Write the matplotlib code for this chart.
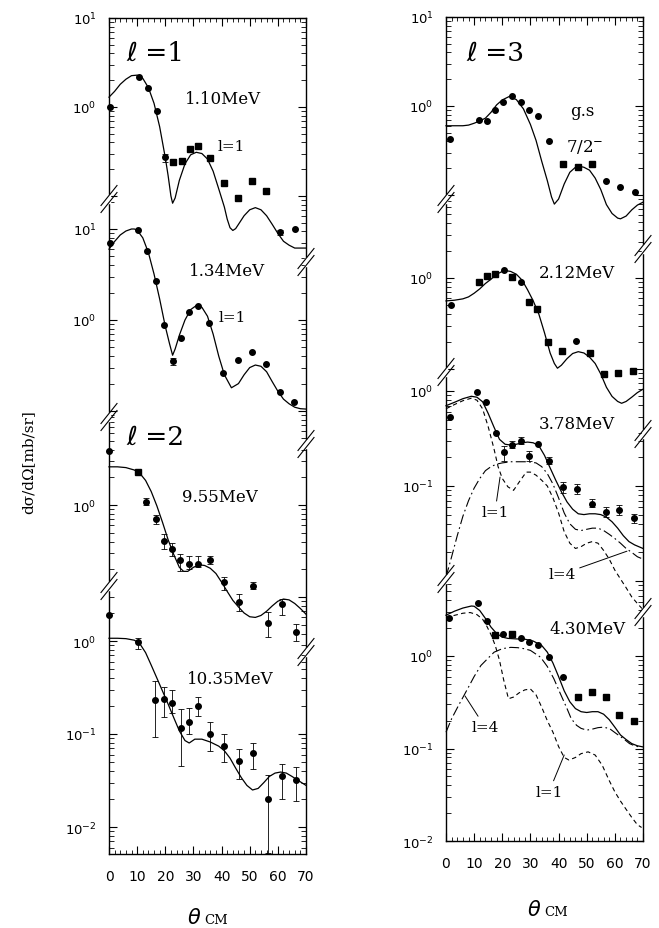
import numpy as np
import matplotlib.pyplot as plt
from matplotlib.lines import Line2D
from matplotlib.ticker import LogLocator, NullFormatter, MultipleLocator, FuncFormatter

W, H = 659, 929
nan = np.nan

# ---------------- data ----------------
# left column, l=1 : 1.10 MeV
a_th = [0.4, 10.7, 14.0, 16.9, 19.9, 22.9, 25.8, 28.8, 31.7, 35.9, 40.9, 45.7, 50.7, 55.8, 60.8, 66.1]
a_v = [1.0, 2.19, 1.62, 0.91, 0.272, 0.24, 0.25, 0.34, 0.36, 0.265, 0.139, 0.095, 0.149, 0.113, 0.039, 0.043]
a_lo = [nan, nan, nan, nan, 0.24, nan, nan, nan, nan, nan, nan, nan, nan, nan, 0.036, nan]
a_hi = [nan, nan, nan, nan, 0.30, nan, nan, nan, nan, nan, nan, nan, nan, nan, 0.042, nan]
a_sq = [5, 6, 7, 8, 9, 10, 11, 12, 13]
a_cth = [0, 2, 4, 6, 8, 10, 12, 14, 16, 18, 20, 21, 22, 22.6, 23.5, 25, 27, 29, 31, 33, 35, 37, 39,
         41, 42, 43, 44, 45, 46, 48, 50, 52, 54, 56, 58, 60, 62, 64, 66, 68, 70]
a_cv = [1.29, 1.5, 1.8, 2.05, 2.25, 2.28, 2.1, 1.65, 1.1, 0.6, 0.27, 0.17, 0.1, 0.083, 0.095, 0.15, 0.23,
        0.29, 0.31, 0.3, 0.26, 0.19, 0.12, 0.075, 0.055, 0.044, 0.041, 0.043, 0.048, 0.06, 0.07, 0.074,
        0.07, 0.06, 0.048, 0.038, 0.031, 0.028, 0.026, 0.026, 0.026]

# 1.34 MeV
b_th = [0.4, 10.4, 13.6, 16.6, 19.5, 22.6, 25.5, 28.5, 31.5, 35.5, 40.6, 45.7, 50.7, 55.8, 60.8, 65.8]
b_v = [6.96, 9.8, 5.8, 2.7, 0.89, 0.35, 0.63, 1.21, 1.41, 0.92, 0.26, 0.36, 0.45, 0.33, 0.16, 0.125]
b_lo = [nan] * 5 + [0.32] + [nan] * 10
b_hi = [nan] * 5 + [0.38] + [nan] * 10
b_sq = []
b_cth = [0, 2, 4, 6, 8, 9, 10, 12, 14, 16, 18, 20, 21.5, 22.6, 23.5, 25, 27, 29, 31, 33, 35, 37, 39, 41,
         43.5, 46, 48, 50, 52, 54, 56, 58, 60, 62, 64, 66, 68, 70]
b_cv = [6.0, 7.3, 8.6, 9.5, 10.0, 10.0, 9.7, 8.0, 5.5, 3.2, 1.7, 0.85, 0.55, 0.41, 0.48, 0.68, 1.0, 1.3,
        1.44, 1.38, 1.1, 0.7, 0.4, 0.25, 0.18, 0.2, 0.25, 0.3, 0.32, 0.31, 0.27, 0.21, 0.165, 0.135, 0.12,
        0.11, 0.106, 0.105]

# l=2 : 9.55 MeV
c_th = [0.0, 10.4, 13.3, 16.6, 19.5, 22.5, 25.4, 28.4, 31.6, 35.8, 40.9, 46.2, 51.2, 56.6, 61.4, 66.5]
c_v = [3.9, 2.3, 1.09, 0.70, 0.41, 0.33, 0.25, 0.23, 0.23, 0.25, 0.145, 0.089, 0.133, 0.052, 0.084, 0.042]
c_lo = [nan, nan, 1.0, 0.62, 0.33, 0.28, 0.19, 0.20, 0.21, 0.23, 0.12, 0.071, 0.122, 0.037, 0.063, 0.033]
c_hi = [nan, nan, 1.18, 0.78, 0.48, 0.39, 0.29, 0.28, 0.276, 0.28, 0.164, 0.108, 0.145, 0.068, 0.095, 0.051]
c_sq = [1]
c_cth = [0, 3, 6, 9, 11, 13, 15, 17, 19, 21, 23, 25, 26.5, 28, 30, 32, 34, 36, 38, 40, 42, 44, 46, 48,
         50, 52, 54, 56, 58, 60, 62, 64, 66, 68, 70]
c_cv = [2.6, 2.6, 2.55, 2.4, 2.2, 1.85, 1.4, 0.98, 0.65, 0.42, 0.29, 0.21, 0.19, 0.19, 0.21, 0.224, 0.22,
        0.205, 0.18, 0.145, 0.115, 0.092, 0.078, 0.067, 0.061, 0.06, 0.063, 0.07, 0.08, 0.09, 0.095,
        0.093, 0.085, 0.075, 0.065]

# 10.35 MeV
d_th = [0.0, 10.4, 16.3, 19.4, 22.4, 25.5, 28.4, 31.5, 36.0, 40.8, 46.1, 51.2, 56.6, 61.6, 66.5]
d_v = [1.9, 0.97, 0.234, 0.24, 0.215, 0.116, 0.136, 0.20, 0.10, 0.075, 0.051, 0.062, 0.020, 0.035, 0.032]
d_lo = [nan, 0.82, 0.092, 0.151, 0.17, 0.0455, 0.10, 0.157, 0.066, 0.05, 0.033, 0.042, 0.0052, 0.020, 0.019]
d_hi = [nan, 1.09, 0.375, 0.318, 0.30, 0.186, 0.189, 0.248, 0.134, 0.10, 0.069, 0.081, 0.036, 0.048, 0.044]
d_sq = []
d_cth = [0, 3, 6, 9, 11, 13, 15, 17, 19, 21, 23, 25, 27, 28.5, 30.5, 33, 36, 39, 41, 43, 45, 47, 49, 51,
         53, 55, 57, 59, 61, 63, 65, 67, 70]
d_cv = [1.07, 1.07, 1.06, 1.02, 0.93, 0.75, 0.55, 0.4, 0.29, 0.21, 0.15, 0.108, 0.085, 0.08, 0.088, 0.088,
        0.082, 0.074, 0.066, 0.055, 0.043, 0.034, 0.028, 0.025, 0.026, 0.03, 0.035, 0.038, 0.039, 0.038,
        0.035, 0.032, 0.028]

# right column, l=3 : g.s. 7/2-
e_th = [1.4, 11.7, 14.5, 17.4, 20.4, 23.6, 26.5, 29.6, 32.6, 36.7, 41.7, 46.8, 51.8, 56.9, 61.8, 67.2]
e_v = [0.43, 0.70, 0.68, 0.91, 1.1, 1.31, 1.12, 0.91, 0.78, 0.40, 0.225, 0.205, 0.223, 0.144, 0.124, 0.109]
e_lo = [nan] * 16
e_hi = [nan] * 16
e_sq = [10, 11, 12]
e_cth = [0, 3, 6, 8, 10, 12, 14, 16, 18, 20, 22.5, 25, 27.5, 30, 32, 34, 36, 37.5, 38.5, 40, 42, 44, 46,
         47.5, 49, 51, 53, 55, 57, 59, 61, 62, 64, 66, 68, 70]
e_cv = [0.6, 0.6, 0.6, 0.61, 0.64, 0.68, 0.73, 0.85, 1.03, 1.17, 1.28, 1.18, 0.93, 0.62, 0.41, 0.24, 0.145,
        0.095, 0.079, 0.09, 0.133, 0.18, 0.205, 0.21, 0.205, 0.19, 0.155, 0.115, 0.078, 0.062, 0.055,
        0.054, 0.058, 0.068, 0.077, 0.083]

# 2.12 MeV
f_th = [1.7, 11.7, 14.6, 17.5, 20.6, 23.5, 26.5, 29.4, 32.3, 36.1, 41.1, 46.3, 51.1, 56.1, 61.1, 66.4]
f_v = [0.50, 0.90, 1.06, 1.10, 1.22, 1.03, 0.91, 0.54, 0.46, 0.20, 0.159, 0.205, 0.15, 0.088, 0.091, 0.094]
f_lo = [nan] * 16
f_hi = [nan] * 16
f_sq = [1, 2, 3, 5, 7, 8, 9, 10, 12, 13, 14, 15]
f_cth = [0, 3, 6, 8, 10, 12, 14, 16, 18, 20, 21.6, 23, 25, 27, 29, 31, 33, 35, 37, 38.5, 39.6, 41, 43, 45,
         47, 49, 51, 53, 55, 57, 59, 61, 62.4, 64, 66, 68, 70]
f_cv = [0.56, 0.57, 0.59, 0.62, 0.68, 0.76, 0.87, 0.97, 1.1, 1.18, 1.2, 1.18, 1.1, 0.95, 0.74, 0.56, 0.4,
        0.25, 0.15, 0.115, 0.102, 0.11, 0.13, 0.148, 0.155, 0.15, 0.135, 0.115, 0.088, 0.063, 0.05, 0.044,
        0.042, 0.044, 0.049, 0.055, 0.06]

# 3.78 MeV (sum, l=1, l=4)
g_th = [1.4, 11.1, 14.2, 17.6, 20.6, 23.6, 26.5, 29.6, 32.6, 36.6, 41.5, 46.4, 51.8, 56.9, 61.6, 66.9]
g_v = [0.53, 0.97, 0.76, 0.36, 0.226, 0.27, 0.30, 0.205, 0.28, 0.185, 0.097, 0.093, 0.065, 0.053, 0.056, 0.046]
g_lo = [nan, nan, nan, nan, 0.185, 0.25, 0.277, 0.185, nan, 0.17, 0.085, 0.082, 0.06, 0.047, 0.049, 0.041]
g_hi = [nan, nan, nan, nan, 0.266, 0.30, 0.325, 0.235, nan, 0.20, 0.111, 0.105, 0.073, 0.06, 0.063, 0.051]
g_sq = []
g_cth = [0, 3, 6, 9, 11, 13, 15, 17, 19, 21, 23, 25, 27, 29, 31, 33, 35, 37, 39, 41, 43, 45, 47, 49, 51,
         53, 55, 57, 59, 61, 63, 65, 67, 70]
g_cv = [0.70, 0.76, 0.83, 0.88, 0.86, 0.77, 0.58, 0.42, 0.31, 0.275, 0.27, 0.275, 0.285, 0.29, 0.285,
        0.265, 0.21, 0.155, 0.115, 0.087, 0.068, 0.057, 0.051, 0.05, 0.051, 0.051, 0.05, 0.047, 0.042,
        0.036, 0.03, 0.026, 0.024, 0.022]
g1_th = [0, 3, 6, 9, 11, 13, 15, 17, 18.5, 20, 22, 24, 26, 28.5, 30, 32, 34, 36, 38, 40, 42, 44, 46, 48,
         50, 52, 54, 56, 58, 60, 62, 64, 66, 68, 70]
g1_v = [0.65, 0.72, 0.79, 0.84, 0.8, 0.65, 0.42, 0.25, 0.16, 0.12, 0.098, 0.09, 0.11, 0.14, 0.14, 0.13,
        0.115, 0.1, 0.075, 0.052, 0.033, 0.025, 0.022, 0.023, 0.025, 0.026, 0.025, 0.021, 0.017, 0.013,
        0.0105, 0.0085, 0.0068, 0.0058, 0.005]
g4_th = [0, 2, 4, 6, 8, 10, 12, 14, 16, 18, 20, 23, 26, 29, 32, 34, 36, 38, 40, 42, 44, 46, 48, 50, 52,
         54, 56, 58, 60, 62, 64, 66, 68, 70]
g4_v = [0.011, 0.018, 0.03, 0.048, 0.07, 0.095, 0.12, 0.145, 0.16, 0.17, 0.175, 0.18, 0.18, 0.18, 0.175,
        0.16, 0.135, 0.105, 0.075, 0.052, 0.04, 0.035, 0.034, 0.035, 0.036, 0.036, 0.034, 0.031, 0.028,
        0.025, 0.022, 0.02, 0.018, 0.017]

# 4.30 MeV (sum, l=1, l=4)
h_th = [1.2, 11.3, 14.5, 17.4, 20.4, 23.5, 26.5, 29.6, 32.6, 36.7, 41.7, 46.8, 51.8, 56.9, 61.6, 66.9]
h_v = [2.56, 3.78, 2.4, 1.68, 1.75, 1.75, 1.55, 1.40, 1.32, 0.97, 0.59, 0.36, 0.41, 0.36, 0.23, 0.196]
h_lo = [nan] * 16
h_hi = [nan] * 16
h_sq = [3, 5, 11, 12, 13, 14, 15]
h_cth = [0, 3, 6, 9, 10, 12, 14, 16, 18, 20, 22, 25, 28, 31, 34, 36, 38, 40, 42, 44, 46, 48, 50, 52, 54,
         56, 58, 60, 62, 64, 66, 68, 70]
h_cv = [2.76, 3.05, 3.3, 3.47, 3.45, 3.1, 2.55, 2.05, 1.75, 1.6, 1.55, 1.53, 1.52, 1.45, 1.3, 1.1, 0.84,
        0.6, 0.42, 0.32, 0.27, 0.25, 0.245, 0.25, 0.25, 0.235, 0.205, 0.17, 0.14, 0.125, 0.113, 0.107, 0.104]
h1_th = [0, 3, 6, 8.6, 11, 13, 14.5, 16, 17.5, 19, 20.5, 22.2, 24, 26, 28, 30, 32, 34, 36, 38, 40, 42,
         43.7, 46, 48, 50.5, 53, 55.5, 58, 60, 62, 64, 66, 68, 69.5]
h1_v = [2.6, 2.75, 2.9, 2.95, 2.8, 2.5, 2.1, 1.7, 1.3, 0.9, 0.55, 0.345, 0.36, 0.4, 0.43, 0.44, 0.38, 0.28,
        0.2, 0.15, 0.105, 0.08, 0.075, 0.08, 0.088, 0.092, 0.085, 0.066, 0.045, 0.034, 0.027, 0.022, 0.018,
        0.015, 0.014]
h4_th = [0, 2, 4.4, 6.5, 8.3, 10, 12.4, 15, 17.1, 20, 23, 25.5, 27.7, 30, 33.6, 36, 38.3, 40.5, 43, 44.5,
         46.4, 48, 50, 52, 54, 55.8, 58, 60.5, 63, 65.2, 67, 68.6]
h4_v = [0.15, 0.21, 0.29, 0.38, 0.48, 0.6, 0.79, 0.95, 1.1, 1.2, 1.24, 1.23, 1.2, 1.15, 0.97, 0.77, 0.57,
        0.4, 0.27, 0.21, 0.178, 0.165, 0.158, 0.162, 0.168, 0.17, 0.165, 0.145, 0.128, 0.113, 0.107, 0.104]

# ---------------- layout (pixels of the 659x929 page) ----------------
fig = plt.figure(figsize=(W / 100, H / 100), dpi=100)
fig.patch.set_facecolor('white')

COLS = {'L': (109, 306, 19, 855), 'R': (446, 643, 18, 842)}

def frame(col):
    x0, x1, top, bot = COLS[col]
    ax = fig.add_axes([x0 / W, 1 - bot / H, (x1 - x0) / W, (bot - top) / H])
    ax.patch.set_visible(False)
    ax.set_xlim(0, 70)
    ax.set_yticks([])
    ax.xaxis.set_major_locator(MultipleLocator(10))
    ax.xaxis.set_minor_locator(MultipleLocator(2))
    ax.tick_params(axis='x', which='both', direction='in', top=True, bottom=True,
                   labelsize=10, pad=11)
    ax.tick_params(axis='x', which='major', length=6)
    ax.tick_params(axis='x', which='minor', length=3)
    for s in ax.spines.values():
        s.set_linewidth(1.0)
    return ax

def decade_fmt(shown):
    def f(v, pos):
        e = int(round(np.log10(v)))
        return r'$\mathdefault{10^{%d}}$' % e if e in shown else ''
    return FuncFormatter(f)

def panel(col, seg_l, seg_r, y0, dec, shown):
    x0, x1 = COLS[col][:2]
    out = []
    for side, (top, bot) in (('left', seg_l), ('right', seg_r)):
        ax = fig.add_axes([x0 / W, 1 - bot / H, (x1 - x0) / W, (bot - top) / H])
        ax.set_xlim(0, 70)
        ax.set_yscale('log')
        ax.set_ylim(10 ** ((y0 - bot) / dec), 10 ** ((y0 - top) / dec))
        ax.patch.set_visible(False)
        for s in ax.spines.values():
            s.set_visible(False)
        ax.xaxis.set_visible(False)
        ax.yaxis.set_major_locator(LogLocator(10, numticks=10))
        ax.yaxis.set_major_formatter(decade_fmt(shown))
        ax.yaxis.set_minor_locator(LogLocator(10, subs=np.arange(2, 10), numticks=20))
        ax.yaxis.set_minor_formatter(NullFormatter())
        ax.tick_params(axis='y', which='both', direction='in',
                       left=(side == 'left'), right=(side == 'right'),
                       labelleft=(side == 'left'), labelright=False, labelsize=9.5, pad=9)
        ax.tick_params(axis='y', which='major', length=6)
        ax.tick_params(axis='y', which='minor', length=3.5)
        out.append(ax)
    return out[0]

def draw(ax, th, v, lo, hi, sq, cth, cv):
    th, v, lo, hi = map(np.asarray, (th, v, lo, hi))
    ax.plot(cth, cv, color='black', lw=0.9, clip_on=False)
    m = ~np.isnan(lo)
    if m.any():
        ax.errorbar(th[m], v[m], yerr=[v[m] - lo[m], hi[m] - v[m]], fmt='none', ecolor='black',
                    elinewidth=0.6, capsize=2, capthick=0.6, clip_on=False)
    isq = np.zeros(len(th), bool)
    isq[list(sq)] = True
    ax.plot(th[~isq], v[~isq], 'o', color='black', ms=4, clip_on=False)
    ax.plot(th[isq], v[isq], 's', color='black', ms=3.8, clip_on=False)

def breaks(x, y):
    # white gap on the frame, then the two slashes
    fig.add_artist(Line2D([x / W, x / W], [1 - (y - 3) / H, 1 - (y + 3) / H], color='white', lw=2.5))
    for dy in (-3.5, 3.5):
        fig.add_artist(Line2D([(x - 8) / W, (x + 8) / W], [1 - (y + dy + 10) / H, 1 - (y + dy - 10) / H],
                              color='black', lw=0.8))

frame('L')
frame('R')

axA = panel('L', (19, 200), (19, 263), 108, 89, (1, 0))
axB = panel('L', (200, 418), (263, 445), 321, 91, (1, 0))
axC = panel('L', (418, 587), (445, 653), 506, 92, (0,))
axD = panel('L', (587, 855), (653, 855), 642, 93, (0, -1, -2))
axE = panel('R', (18, 200), (18, 250), 107, 89, (1, 0))
axF = panel('R', (200, 373), (250, 435), 279, 91, (0,))
axG = panel('R', (373, 580), (435, 613), 392, 95, (0, -1))
axH = panel('R', (580, 842), (613, 842), 657, 92.5, (0, -1, -2))

draw(axA, a_th, a_v, a_lo, a_hi, a_sq, a_cth, a_cv)
draw(axB, b_th, b_v, b_lo, b_hi, b_sq, b_cth, b_cv)
draw(axC, c_th, c_v, c_lo, c_hi, c_sq, c_cth, c_cv)
draw(axD, d_th, d_v, d_lo, d_hi, d_sq, d_cth, d_cv)
draw(axE, e_th, e_v, e_lo, e_hi, e_sq, e_cth, e_cv)
draw(axF, f_th, f_v, f_lo, f_hi, f_sq, f_cth, f_cv)
draw(axG, g_th, g_v, g_lo, g_hi, g_sq, g_cth, g_cv)
draw(axH, h_th, h_v, h_lo, h_hi, h_sq, h_cth, h_cv)

l1_style = dict(color='black', lw=0.8, dashes=(4, 3), clip_on=False)
l4_style = dict(color='black', lw=0.8, dashes=(9, 3, 1.5, 3), clip_on=False)
axG.plot(g1_th, g1_v, **l1_style)
axG.plot(g4_th, g4_v, **l4_style)
axH.plot(h1_th, h1_v, **l1_style)
axH.plot(h4_th, h4_v, **l4_style)

for x, y in [(109, 200), (109, 418), (109, 587), (306, 263), (306, 445), (306, 653),
             (446, 200), (446, 373), (446, 580), (643, 250), (643, 435), (643, 613)]:
    breaks(x, y)

serif = ['DejaVu Serif', 'DejaVu Sans']

def label(px, py, s, size=12, **kw):
    fig.text(px / W, 1 - py / H, s, ha='center', va='center', fontsize=size, family=serif, **kw)

label(155, 53, '\u2113 =1', 19)
label(155, 437, '\u2113 =2', 19)
label(495, 53, '\u2113 =3', 19)
label(223, 99, '1.10MeV')
label(231, 147, 'l=1', 11)
label(227, 272, '1.34MeV')
label(232, 318, 'l=1', 11)
label(220, 498, '9.55MeV')
label(230, 680, '10.35MeV')
label(582, 112, 'g.s')
label(585, 147, r'7/2$^{-}$')
label(577, 273, '2.12MeV')
label(577, 425, '3.78MeV')
label(588, 630, '4.30MeV')

arrow = dict(arrowstyle='-', lw=0.7, color='black', shrinkA=1, shrinkB=0)
for ax, txt, xy, xyt in [(axG, 'l=1', (19.2, 0.124), (17.4, 0.053)),
                         (axG, 'l=4', (64.3, 0.0206), (41.2, 0.0118)),
                         (axH, 'l=4', (6.75, 0.37), (13.9, 0.17)),
                         (axH, 'l=1', (42.0, 0.085), (36.6, 0.034))]:
    ax.annotate(txt, xy=xy, xytext=xyt, ha='center', va='center', fontsize=11, family=serif,
                arrowprops=arrow, annotation_clip=False)

fig.text(28 / W, 1 - 462 / H, 'd\u03c3/d\u03a9[mb/sr]', rotation=90, ha='center', va='center',
         fontsize=11, family=serif)
for cx, cy in [(205, 918), (545, 910)]:
    fig.text((cx - 4) / W, 1 - cy / H, r'$\theta$', ha='right', va='center', fontsize=15)
    fig.text((cx - 1) / W, 1 - (cy + 3) / H, 'CM', ha='left', va='center', fontsize=9.5, family=serif)

fig.savefig('out.png', dpi=100)
